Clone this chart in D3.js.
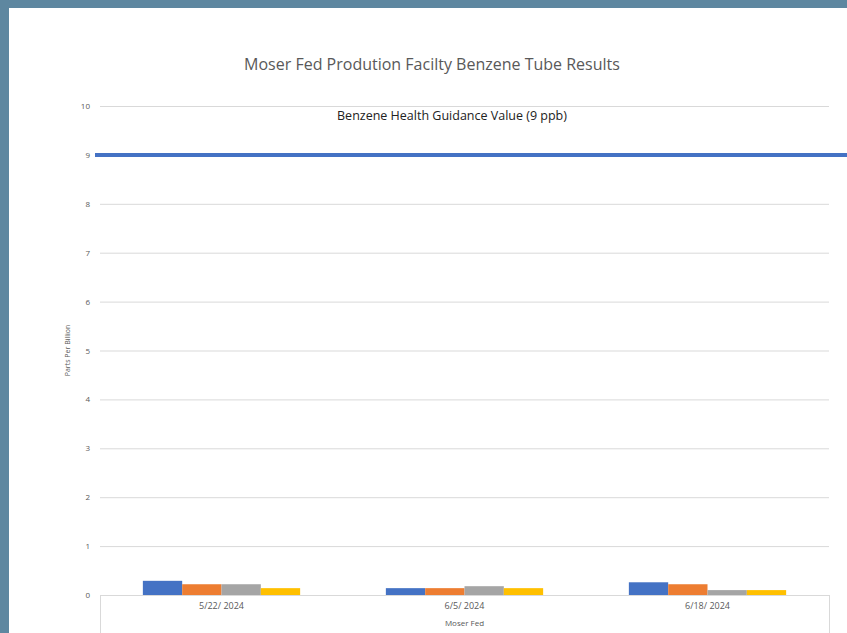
<!DOCTYPE html>
<meta charset="utf-8">
<style>
    body { margin: 0; background: #5e87a0; }
    svg { display: block; }
    .grid line { stroke: #d9d9d9; }
    .axis text { font-family: "Open Sans", sans-serif; fill: #595959; }
</style>
<svg width="847" height="633"></svg>
<script src="https://cdn.jsdelivr.net/npm/d3@7/dist/d3.min.js"></script>
<script>
    // data
    var dates = ["5/22/2024", "6/5/2024", "6/18/2024"];
    var seriesNames = ["Tube 1", "Tube 2", "Tube 3", "Tube 4"];
    var tube1 = [0.29, 0.14, 0.26];
    var tube2 = [0.22, 0.14, 0.22];
    var tube3 = [0.22, 0.18, 0.10];
    var tube4 = [0.14, 0.14, 0.10];
    var yTicks = [0, 1, 2, 3, 4, 5, 6, 7, 8, 9, 10];
    var guidance = 9;
    var colors = ["#4472c4", "#ed7d31", "#a5a5a5", "#ffc000"];

    (function () {
        var svg = d3.select("svg"),
            width = +svg.attr("width"),
            height = +svg.attr("height"),
            padLeft = 100, padRight = 829, padTop = 106, padBottom = 595;

        // white chart area inside blue-grey frame
        svg.append("rect").attr("x", 9).attr("y", 8)
            .attr("width", width - 9).attr("height", height - 8).attr("fill", "#fff");

        var values = [tube1, tube2, tube3, tube4];
        var x0 = d3.scaleBand().domain(dates).range([padLeft, padRight]);
        var x1 = d3.scaleBand().domain(seriesNames).range([0, x0.bandwidth()]).paddingOuter(1.09);
        var y = d3.scaleLinear().domain([0, 10]).range([padBottom, padTop]);

        // gridlines
        svg.append("g").attr("class", "grid")
            .selectAll("line").data(yTicks.filter(function (d) { return d > 0; })).enter()
            .append("line")
            .attr("x1", padLeft).attr("x2", padRight)
            .attr("y1", function (d) { return y(d) + 0.5; })
            .attr("y2", function (d) { return y(d) + 0.5; });

        // y labels
        svg.append("g").attr("class", "axis")
            .selectAll("text").data(yTicks).enter()
            .append("text")
            .attr("x", 90).attr("y", function (d) { return y(d) + 3; })
            .attr("text-anchor", "end").attr("font-size", 8)
            .text(function (d) { return d; });

        // bars
        var groups = svg.append("g").selectAll("g").data(dates).enter()
            .append("g")
            .attr("transform", function (d) { return "translate(" + x0(d) + ",0)"; });
        groups.selectAll("rect")
            .data(function (d, i) {
                return seriesNames.map(function (s, j) { return { s: s, v: values[j][i], c: colors[j] }; });
            })
            .enter().append("rect")
            .attr("x", function (d) { return x1(d.s); })
            .attr("width", x1.bandwidth())
            .attr("y", function (d) { return y(d.v); })
            .attr("height", function (d) { return padBottom - y(d.v); })
            .attr("fill", function (d) { return d.c; });

        // category axis (multi-level box)
        var ax = svg.append("g").attr("stroke", "#d9d9d9").attr("fill", "none");
        ax.append("line").attr("x1", padLeft).attr("x2", padRight).attr("y1", padBottom + 0.5).attr("y2", padBottom + 0.5);
        ax.append("line").attr("x1", padLeft + 0.5).attr("x2", padLeft + 0.5).attr("y1", padBottom).attr("y2", height);
        ax.append("line").attr("x1", padRight + 0.5).attr("x2", padRight + 0.5).attr("y1", padBottom).attr("y2", height);

        svg.append("g").attr("class", "axis")
            .selectAll("text").data(dates).enter()
            .append("text")
            .attr("x", function (d) { return x0(d) + x0.bandwidth() / 2; })
            .attr("y", 609).attr("text-anchor", "middle").attr("font-size", 9)
            .text(function (d) { return d.replace(/\/(\d{4})$/, "/ $1"); });

        svg.append("text")
            .attr("x", (padLeft + padRight) / 2).attr("y", 626)
            .attr("text-anchor", "middle").attr("font-size", 8)
            .attr("font-family", "Open Sans, sans-serif").attr("fill", "#595959")
            .text("Moser Fed");

        // y axis title
        svg.append("text")
            .attr("transform", "translate(70," + (padBottom + padTop) / 2 + ") rotate(-90)")
            .attr("text-anchor", "middle").attr("font-size", 7)
            .attr("font-family", "Open Sans, sans-serif").attr("fill", "#595959")
            .text("Parts Per Billion");

        // guidance line
        svg.append("line")
            .attr("x1", 95).attr("x2", width)
            .attr("y1", y(guidance)).attr("y2", y(guidance))
            .attr("stroke", "#4472c4").attr("stroke-width", 4);

        svg.append("text")
            .attr("x", 452).attr("y", 120)
            .attr("text-anchor", "middle").attr("font-size", 12.5)
            .attr("font-family", "Open Sans, sans-serif").attr("fill", "#222")
            .text("Benzene Health Guidance Value (9 ppb)");

        // title
        svg.append("text")
            .attr("x", 432).attr("y", 70)
            .attr("text-anchor", "middle").attr("font-size", 16)
            .attr("font-family", "Open Sans, sans-serif").attr("fill", "#595959")
            .text("Moser Fed Prodution Facilty Benzene Tube Results");
    })();
</script>
